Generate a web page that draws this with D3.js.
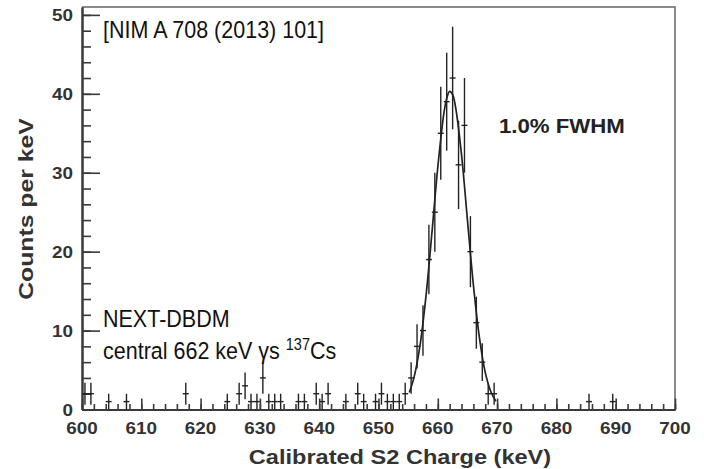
<!DOCTYPE html>
<html>
<head>
<meta charset="utf-8">
<script src="https://cdn.jsdelivr.net/npm/d3@7"></script>
<style>
  body { margin: 0; background: #fff; }
  text { font-family: "Liberation Sans", Arial, sans-serif; }
</style>
</head>
<body>
<div id="the_chart"></div>
<script>
// bin centres (keV) and counts
var binCenters = [600.5, 601.5, 604.5, 607.5, 617.5, 624.5, 626.5, 627.5, 628.5, 629.5,
    630.5, 631.5, 632.5, 633.5, 636.5, 637.5, 639.5, 640.5, 641.5, 644.5,
    646.5, 647.5, 649.5, 650.5, 651.5, 652.5, 653.5, 654.5, 655.5, 656.5,
    657.5, 658.5, 659.5, 660.5, 661.5, 662.5, 663.5, 664.5, 665.5, 666.5,
    667.5, 668.5, 669.5, 685.5, 689.5];
var counts = [2, 2, 1, 1, 2, 1, 2, 3, 1, 1,
    4, 1, 1, 1, 1, 1, 2, 1, 2, 1,
    2, 1, 1, 2, 1, 1, 1, 2, 4, 8,
    10, 19, 25, 35, 39, 42, 31, 36, 20, 11,
    6, 2, 2, 1, 1];
var errors = [1.4, 1.4, 1, 1, 1.4, 1, 1.4, 1.7, 1, 1,
    2, 1, 1, 1, 1, 1, 1.4, 1, 1.4, 1,
    1.4, 1, 1, 1.4, 1, 1, 1, 1.4, 2, 2.8,
    3.2, 4.4, 5, 5.9, 6.2, 6.5, 5.6, 6, 4.5, 3.3,
    2.4, 1.4, 1.4, 1, 1];

// fitted curve
var fitX = [655.2, 656, 657, 658, 659, 660, 661, 661.5, 662, 662.5, 663, 664, 665, 666, 667, 668, 669, 669.8];
var fitY = [2.15, 4.1, 8.1, 14.3, 22.3, 30.7, 37.4, 39.4, 40.3, 39.9, 38.3, 32.3, 24.0, 15.8, 9.2, 4.7, 2.15, 1.05];

var xMajor = [600, 610, 620, 630, 640, 650, 660, 670, 680, 690, 700];
var yMajor = [0, 10, 20, 30, 40, 50];

drawChart();

function drawChart() {
    var w = 704;
    var h = 469;
    var left = 82, right = 675, top = 7, bottom = 409.5;
    var axisColor = "#3a3a3a";

    var svg = d3.select("#the_chart")
        .append("svg")
        .attr("width", w)
        .attr("height", h);

    var xscale = d3.scaleLinear().domain([600, 700]).range([left, right]);
    var yscale = d3.scaleLinear().domain([0, 51]).range([bottom, top]);

    // frame (top and right)
    svg.append("path")
        .attr("d", "M" + left + "," + top + "H" + right + "V" + bottom)
        .attr("fill", "none")
        .attr("stroke", "#666")
        .attr("stroke-width", 1.5);

    // y axis: major ticks every 10, minor every 2, pointing inwards
    var yaxis = d3.axisRight(yscale)
        .tickValues(yMajor)
        .tickSize(18)
        .tickSizeOuter(0)
        .tickFormat("");
    var yminor = d3.axisRight(yscale)
        .tickValues(d3.range(0, 51, 2))
        .tickSize(9)
        .tickSizeOuter(0)
        .tickFormat("");
    var gy = svg.append("g").attr("transform", "translate(" + left + ",0)");
    gy.call(yminor);
    gy.append("g").call(yaxis);

    // x axis
    var xaxis = d3.axisTop(xscale)
        .tickValues(xMajor)
        .tickSize(11)
        .tickSizeOuter(0)
        .tickFormat("");
    var xminor = d3.axisTop(xscale)
        .tickValues(d3.range(600, 701, 2))
        .tickSize(5.5)
        .tickSizeOuter(0)
        .tickFormat("");
    var gx = svg.append("g").attr("transform", "translate(0," + bottom + ")");
    gx.call(xminor);
    gx.append("g").call(xaxis);

    svg.selectAll(".domain, .tick line")
        .attr("stroke", axisColor)
        .attr("stroke-width", 1.6);
    svg.selectAll(".domain").attr("stroke-width", 2);

    // bold text in the original is a wide helvetica; stretch Arial-metric bold to match
    function boldText(x, y, sx, rot, size, anchor, str) {
        return svg.append("text")
            .attr("transform", "translate(" + x + "," + y + ")" + (rot ? " rotate(" + rot + ")" : "") + " scale(" + sx + ",1)")
            .attr("font-weight", "bold")
            .attr("font-size", size)
            .attr("text-anchor", anchor)
            .attr("fill", "#333")
            .text(str);
    }

    // tick labels
    xMajor.forEach(function(d) {
        boldText(xscale(d), 433.5, 1.11, 0, 17, "middle", d);
    });
    yMajor.forEach(function(d) {
        boldText(73, yscale(d) + 6, 1.11, 0, 17, "end", d);
    });

    // axis titles
    boldText(400, 463.5, 1.19, 0, 19.8, "middle", "Calibrated S2 Charge (keV)");
    boldText(33, 209, 1.22, -90, 20.3, "middle", "Counts per keV");

    // data points: horizontal bin bar + vertical error bar
    var pts = svg.append("g")
        .attr("stroke", "#222")
        .attr("stroke-width", 1.4);

    pts.selectAll(".hbar")
        .data(binCenters)
        .enter().append("line")
        .attr("x1", function(d) { return xscale(d - 0.5); })
        .attr("x2", function(d) { return xscale(d + 0.5); })
        .attr("y1", function(d, i) { return yscale(counts[i]); })
        .attr("y2", function(d, i) { return yscale(counts[i]); });

    pts.selectAll(".vbar")
        .data(binCenters)
        .enter().append("line")
        .attr("x1", function(d) { return xscale(d); })
        .attr("x2", function(d) { return xscale(d); })
        .attr("y1", function(d, i) { return yscale(Math.max(0, counts[i] - errors[i])); })
        .attr("y2", function(d, i) { return yscale(counts[i] + errors[i]); });

    // fit curve
    var line = d3.line()
        .x(function(d) { return xscale(d); })
        .y(function(d, i) { return yscale(fitY[i]); })
        .curve(d3.curveCatmullRom);

    svg.append("path")
        .attr("d", line(fitX))
        .attr("fill", "none")
        .attr("stroke", "#222")
        .attr("stroke-width", 1.7);

    // annotations (regular text looks a bit taller than Arial in the original)
    function label(x, y, str) {
        return svg.append("text")
            .attr("transform", "translate(" + x + "," + y + ") scale(1,1.1)")
            .attr("font-size", 21.5)
            .attr("fill", "#111")
            .text(str);
    }
    label(103, 38, "[NIM A 708 (2013) 101]");
    label(103, 327, "NEXT-DBDM");
    var t = label(103, 359, "central 662 keV \u03b3s ");
    t.append("tspan")
        .attr("dy", -8.5)
        .attr("font-size", 14.5)
        .text("137");
    t.append("tspan")
        .attr("dy", 8.5)
        .text("Cs");

    boldText(499, 132.5, 1.14, 0, 19.5, "start", "1.0% FWHM").attr("fill", "#222");
}
</script>
</body>
</html>
